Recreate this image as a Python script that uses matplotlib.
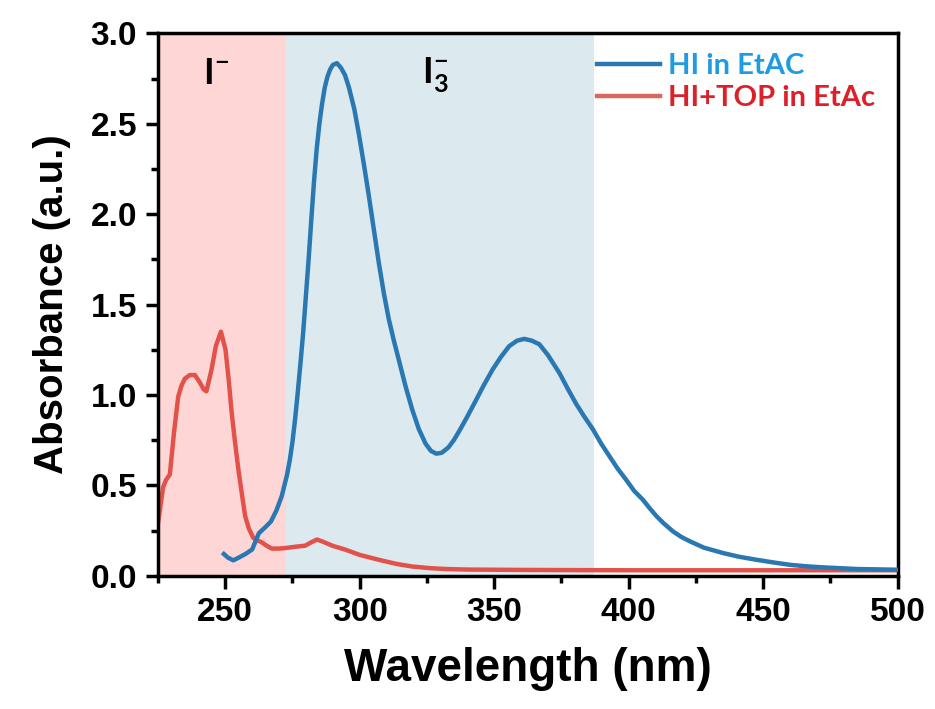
import matplotlib
matplotlib.use("Agg")
import matplotlib.pyplot as plt
from matplotlib.ticker import MultipleLocator, FormatStrFormatter

plt.rcParams['font.family'] = ['Liberation Sans', 'DejaVu Sans']
plt.rcParams['mathtext.fontset'] = 'custom'
plt.rcParams['mathtext.rm'] = 'Lato'
plt.rcParams['mathtext.bf'] = 'Lato:bold'

# HI in EtAC
blue_wl = [249.5, 251, 253, 255, 257.5, 260, 262.5, 265, 267, 269, 271, 272, 273, 274,
           275, 276, 277, 278, 279, 280, 281, 282, 283, 284, 285, 286, 287, 288, 289,
           290, 291.5, 293, 294.5, 296, 298, 299.6, 301.5, 303.4, 305.3, 307.1, 309,
           310.8, 312.7, 314.6, 317, 319.5, 322, 324.5, 326.5, 328.5, 330.5, 333, 335,
           337, 340, 343.2, 346, 349.4, 352.5, 355.6, 358.5, 361.2, 364, 366.8, 370,
           374.3, 377.5, 380.5, 383.5, 386.7, 389.8, 392.9, 396, 399.1, 402, 405.3,
           408, 410.3, 413, 416.5, 419.5, 422.8, 428, 435.2, 441, 447.6, 454, 460.1,
           466, 472.5, 485, 500]
blue_abs = [0.12, 0.10, 0.085, 0.10, 0.12, 0.145, 0.235, 0.27, 0.30, 0.36, 0.44, 0.50,
            0.56, 0.64, 0.74, 0.87, 1.02, 1.18, 1.35, 1.55, 1.75, 1.97, 2.18, 2.36,
            2.50, 2.61, 2.70, 2.76, 2.80, 2.825, 2.835, 2.81, 2.77, 2.70, 2.58, 2.45,
            2.28, 2.10, 1.91, 1.73, 1.56, 1.42, 1.30, 1.19, 1.05, 0.92, 0.81, 0.73,
            0.69, 0.675, 0.68, 0.71, 0.75, 0.80, 0.88, 0.97, 1.05, 1.14, 1.21, 1.27,
            1.30, 1.31, 1.30, 1.28, 1.22, 1.12, 1.03, 0.95, 0.88, 0.81, 0.73, 0.66,
            0.59, 0.53, 0.47, 0.42, 0.37, 0.33, 0.29, 0.245, 0.215, 0.19, 0.155, 0.125,
            0.105, 0.088, 0.073, 0.06, 0.052, 0.046, 0.037, 0.033]

# HI+TOP in EtAc
red_wl = [224.6, 226.9, 228, 229.4, 231, 232.5, 233.7, 235, 236.8, 238.7, 240.5, 242,
          243, 244.9, 246.5, 248.4, 250.1, 251.3, 252.4, 253.7, 254.9, 256.2, 257.4,
          258.8, 260.4, 262, 263.5, 265.5, 267.3, 270, 272.3, 276, 279.7, 282, 284.1,
          286, 290, 294.7, 300, 307.1, 313.7, 319.5, 326, 332, 340, 360, 400, 450, 500]
red_abs = [0.25, 0.49, 0.53, 0.56, 0.80, 0.99, 1.05, 1.09, 1.11, 1.11, 1.07, 1.03,
           1.02, 1.14, 1.27, 1.35, 1.25, 1.08, 0.90, 0.73, 0.585, 0.45, 0.33, 0.26,
           0.21, 0.195, 0.185, 0.165, 0.15, 0.15, 0.153, 0.16, 0.166, 0.185, 0.20,
           0.19, 0.165, 0.144, 0.115, 0.088, 0.065, 0.051, 0.042, 0.037, 0.034, 0.032,
           0.03, 0.03, 0.03]

iodide_band = (225, 272.5)
triiodide_band = (272.5, 387)

fig = plt.figure(figsize=(9.35, 7.09), dpi=100)
ax = fig.add_axes([0.169, 0.188, 0.791, 0.765])

ax.axvspan(*iodide_band, color='#ffd6d6', lw=0, zorder=0)
ax.axvspan(*triiodide_band, color='#dce9ee', lw=0, zorder=0)

ax.plot(blue_wl, blue_abs, color='#2a78b2', lw=3.2, label='HI in EtAC', zorder=3,
        solid_joinstyle='round')
ax.plot(red_wl, red_abs, color='#e2524a', lw=3.2, label='HI+TOP in EtAc', zorder=2,
        solid_joinstyle='round')

ax.set_xlim(225, 500)
ax.set_ylim(0, 3.0)
ax.xaxis.set_major_locator(MultipleLocator(50))
ax.xaxis.set_minor_locator(MultipleLocator(25))
ax.yaxis.set_major_locator(MultipleLocator(0.5))
ax.yaxis.set_minor_locator(MultipleLocator(0.25))
ax.yaxis.set_major_formatter(FormatStrFormatter('%.1f'))

for s in ax.spines.values():
    s.set_linewidth(2.5)
ax.tick_params(which='major', length=9, width=2.5, labelsize=24, pad=6)
ax.tick_params(which='minor', length=5, width=2.5)
for lab in ax.get_xticklabels() + ax.get_yticklabels():
    lab.set_fontweight('bold')

ax.set_xlabel('Wavelength (nm)', fontsize=33, fontweight='bold', labelpad=14)
ax.set_ylabel('Absorbance (a.u.)', fontsize=29, fontweight='bold', labelpad=14)

ax.text(246.5, 2.77, r'$\mathbf{I^{-}}$', fontsize=26, ha='center', va='center')
ax.text(328, 2.77, r'$\mathbf{I_{3}^{-}}$', fontsize=26, ha='center', va='center')

leg = ax.legend(loc='upper left', bbox_to_anchor=(0.593, 0.963), frameon=False,
                borderpad=0, borderaxespad=0, handlelength=2.17, handletextpad=0.28,
                labelspacing=0.2, labelcolor=['#1e9be2', '#dc2029'],
                prop={'family': 'Lato', 'weight': 'bold', 'size': 21})
leg.get_lines()[1].set_color('#d9695c')

fig.savefig('out.png', dpi=100)
